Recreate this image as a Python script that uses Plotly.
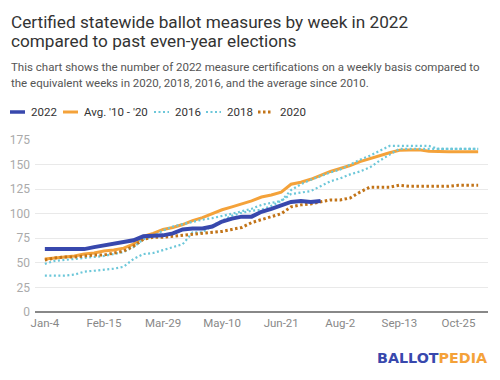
import plotly.graph_objects as go

weeks = ["Jan-4", "Jan-11", "Jan-18", "Jan-25", "Feb-1", "Feb-8", "Feb-15", "Feb-22",
         "Mar-1", "Mar-8", "Mar-15", "Mar-22", "Mar-29", "Apr-5", "Apr-12", "Apr-19",
         "Apr-26", "May-3", "May-10", "May-17", "May-24", "May-31", "Jun-7", "Jun-14",
         "Jun-21", "Jun-28", "Jul-5", "Jul-12", "Jul-19", "Jul-26", "Aug-2", "Aug-9",
         "Aug-16", "Aug-23", "Aug-30", "Sep-6", "Sep-13", "Sep-20", "Sep-27", "Oct-4",
         "Oct-11", "Oct-18", "Oct-25", "Nov-1", "Nov-8"]

tick_labels = ["Jan-4", "Feb-15", "Mar-29", "May-10", "Jun-21", "Aug-2", "Sep-13", "Oct-25"]
y_ticks = [0, 25, 50, 75, 100, 125, 150, 175]

y2022 = [64, 64, 64, 64, 64, 66, 68, 69, 71, 73, 77, 77, 78, 80, 84, 85, 85, 87, 92, 95,
         97, 97, 102, 105, 108, 112, 113, 112, 113]

avg_10_20 = [54, 55, 56, 57, 59, 60, 62, 63, 65, 69, 77, 80, 84, 86, 89, 93, 96, 100, 104, 107,
             110, 113, 117, 119, 122, 130, 132, 135, 139, 143, 146, 149, 153, 156, 159.5, 162,
             164.5, 165, 165, 163.5, 163, 163, 163, 163, 163]

y2016 = [49, 52, 53, 54, 55, 56, 57, 59, 61, 66, 74, 77, 83, 87, 89.5, 92, 94, 95.5, 97.5, 100,
         102.5, 105, 109, 111, 113, 124, 130, 134.5, 138.5, 142, 145, 150, 155, 159, 164, 169,
         169, 169, 169, 169, 166, 166, 166, 166, 166]

y2018 = [37, 37, 37, 38, 41, 42, 43, 44, 46, 54, 59, 60, 63, 66, 69, 81, 81, 88, 93, 98,
         101, 103, 104, 108, 113, 120, 121.5, 123, 128, 133, 136, 140, 143, 147, 154, 160,
         166, 166, 166, 166, 166, 166, 166, 166, 166]

y2020 = [53, 55, 56, 56, 57, 58, 58, 60, 62, 67, 74, 76, 76, 77, 78, 79, 80, 81, 82, 84,
         86, 91, 94, 97, 100, 107, 109, 110, 112, 114, 114, 116, 122, 127, 127, 127, 129, 128,
         128, 128, 128, 128, 129, 129, 129]

BLUE = "#3848ad"
ORANGE = "#f4a23a"
CYAN = "#6cc7d9"
BROWN = "#c27418"

W, H = 500, 380
ML, MR, MT, MB = 35, 12, 140, 68
PW, PH = W - ML - MR, H - MT - MB


def px_x(x):
    return (x - ML) / PW


def px_y(y):
    return (H - MB - y) / PH


series = [
    # name, values, colour, width, dash, legend symbol x, legend text x
    ("Avg. '10 - '20", avg_10_20, ORANGE, 3, "solid", 63, 82),
    ("2016", y2016, CYAN, 2.2, "2px,2.5px", 154, 173),
    ("2018", y2018, CYAN, 2.2, "2px,2.5px", 206, 225),
    ("2020", y2020, BROWN, 3, "2.5px,2.5px", 258, 278),
    ("2022", y2022, BLUE, 4, "solid", 10, 29),
]

fig = go.Figure()
for name, vals, col, lw, dash, sx, tx in series:
    fig.add_trace(go.Scatter(x=weeks[:len(vals)], y=vals, name=name, mode="lines",
                             line=dict(color=col, width=lw, dash=dash), showlegend=False))
    # legend entry (symbol + label)
    ly = px_y(112)
    fig.add_shape(type="line", xref="paper", yref="paper",
                  x0=px_x(sx), x1=px_x(sx + 15), y0=ly, y1=ly,
                  line=dict(color=col, width=min(lw, 3.5), dash=dash))
    fig.add_annotation(text=name, xref="paper", yref="paper", x=px_x(tx), y=ly,
                       xanchor="left", yanchor="middle", showarrow=False,
                       font=dict(family="Roboto", size=11.5, color="#333333"))

fig.update_layout(
    width=W, height=H,
    margin=dict(l=ML, r=MR, t=MT, b=MB, autoexpand=False),
    paper_bgcolor="white", plot_bgcolor="white",
    font=dict(family="Roboto", size=12, color="#333333"),
    showlegend=False,
    hovermode=False,
)

for txt, yc in [("Certified statewide ballot measures by week in 2022", 21.5),
                ("compared to past even-year elections", 40.5)]:
    fig.add_annotation(text=txt, xref="paper", yref="paper", x=px_x(9), y=px_y(yc),
                       xanchor="left", yanchor="middle", showarrow=False,
                       font=dict(family="Roboto", size=17.2, color="#333333"))

for txt, yc in [("This chart shows the number of 2022 measure certifications on a weekly basis compared to", 67.5),
                ("the equivalent weeks in 2020, 2018, 2016, and the average since 2010.", 83)]:
    fig.add_annotation(text=txt, xref="paper", yref="paper", x=px_x(9), y=px_y(yc),
                       xanchor="left", yanchor="middle", showarrow=False,
                       font=dict(family="Roboto", size=11.5, color="#555555"))

fig.add_annotation(
    text="<b><span style='color:#3848ad'>BALLOT</span><span style='color:#f4a23a'>PEDIA</span></b>",
    xref="paper", yref="paper", x=px_x(489), y=px_y(358),
    xanchor="right", yanchor="middle", showarrow=False,
    font=dict(family="DejaVu Sans", size=14.3),
)

fig.update_xaxes(
    type="category", categoryorder="array", categoryarray=weeks,
    range=[-1, 45], tickmode="array", tickvals=tick_labels, ticktext=tick_labels,
    showgrid=False, showline=False, zeroline=False, ticks="",
    ticklabelstandoff=2,
    tickfont=dict(family="Roboto", size=11.5, color="#888888"),
)
fig.update_yaxes(
    range=[0, 175], tickmode="array", tickvals=y_ticks,
    showgrid=True, gridcolor="#e9e9e9", gridwidth=1,
    zeroline=True, zerolinecolor="#888888", zerolinewidth=2,
    showline=False, ticks="", ticklabelstandoff=4,
    tickfont=dict(family="Roboto", size=12, color="#aaaaaa"),
)

fig.write_html(
    "out.html",
    config={"displayModeBar": False, "staticPlot": True},
    post_script="document.body.style.margin='0';document.body.style.overflow='hidden';",
)
